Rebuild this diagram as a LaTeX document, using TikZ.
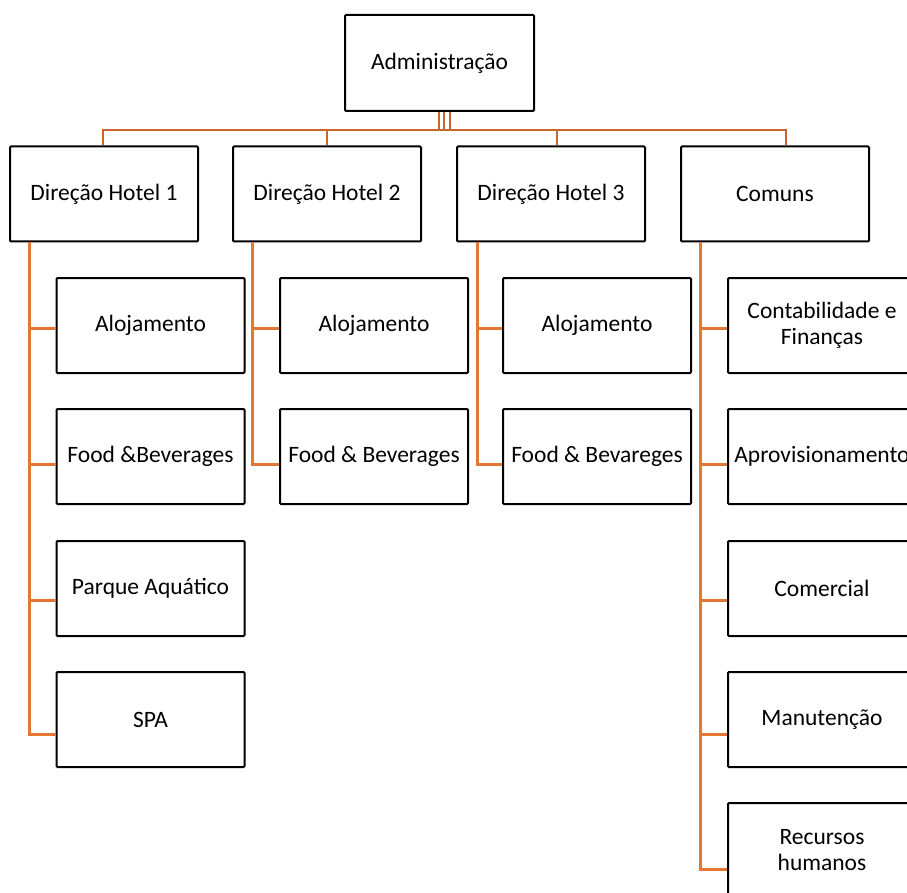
\documentclass[tikz,border=0pt]{standalone}
\usepackage{fontspec}
\setmainfont{Carlito}
\definecolor{busorange}{RGB}{200,102,45}
\definecolor{linkorange}{RGB}{228,120,50}
\begin{document}
\begin{tikzpicture}[x=1pt,y=-1pt,
  unit/.style={draw=black,line width=2pt,fill=white,rounded corners=1pt,
    minimum width=188pt,minimum height=95pt,inner sep=0pt,align=center,
    font=\fontsize{23.5}{26}\selectfont},
  bus/.style={draw=busorange,line width=2.5pt},
  link/.style={draw=linkorange,line width=3pt}]
\useasboundingbox (0,0) rectangle (907,893);
\clip (0,0) rectangle (907,893);

% top level
\node[unit,minimum width=189pt,minimum height=96pt] (adm) at (439.5,63) {Administração};

% second level
\node[unit] (h1) at (104,194) {Direção Hotel 1};
\node[unit] (h2) at (327,194) {Direção Hotel 2};
\node[unit] (h3) at (551,194) {Direção Hotel 3};
\node[unit] (com) at (775,194) {Comuns};

% departments of hotel 1
\node[unit] (a1) at (150.5,325.5) {Alojamento};
\node[unit] (f1) at (150.5,456.5) {Food \&Beverages};
\node[unit] (p1) at (150.5,588.5) {Parque Aquático};
\node[unit] (s1) at (150.5,719.5) {SPA};

% departments of hotel 2
\node[unit] (a2) at (374,325.5) {Alojamento};
\node[unit] (f2) at (374,456.5) {Food \& Beverages};

% departments of hotel 3
\node[unit] (a3) at (597,325.5) {Alojamento};
\node[unit] (f3) at (597,456.5) {Food \& Bevareges};

% shared services
\node[unit] (c1) at (822,325.5) {Contabilidade e\\Finanças};
\node[unit] (c2) at (822,456.5) {Aprovisionamento};
\node[unit] (c3) at (822,588.5) {Comercial};
\node[unit] (c4) at (822,719.5) {Manutenção};
\node[unit] (c5) at (822,850.5) {Recursos\\humanos};

% bus below the top box
\coordinate (bus) at (444,130);
\foreach \dx in {-0.5,4.5,10.5}
  \draw[bus] ([xshift=\dx pt]adm.south) -- ([xshift=\dx pt]adm.south |- bus);
\draw[bus] ([xshift=-1pt]h1.north) |- (bus);
\draw[bus] (h2.north) |- (bus);
\draw[bus] ([xshift=6pt]h3.north) |- (bus);
\draw[bus] ([xshift=11pt]com.north) |- (bus);

% branches to the departments
\draw[link] ([xshift=20pt]h1.south west) |- ([yshift=-3pt]a1.west);
\draw[link] ([xshift=20pt]h1.south west) |- ([yshift=-8pt]f1.west);
\draw[link] ([xshift=20pt]h1.south west) |- ([yshift=-12pt]p1.west);
\draw[link] ([xshift=20pt]h1.south west) |- ([yshift=-15pt]s1.west);

\draw[link] ([xshift=20pt]h2.south west) |- ([yshift=-3pt]a2.west);
\draw[link] ([xshift=20pt]h2.south west) |- ([yshift=-8pt]f2.west);

\draw[link] ([xshift=21pt]h3.south west) |- ([yshift=-3pt]a3.west);
\draw[link] ([xshift=21pt]h3.south west) |- ([yshift=-8pt]f3.west);

\draw[link] ([xshift=20pt]com.south west) |- ([yshift=-3pt]c1.west);
\draw[link] ([xshift=20pt]com.south west) |- ([yshift=-8pt]c2.west);
\draw[link] ([xshift=20pt]com.south west) |- ([yshift=-12pt]c3.west);
\draw[link] ([xshift=20pt]com.south west) |- ([yshift=-15pt]c4.west);
\draw[link] ([xshift=20pt]com.south west) |- ([yshift=-19pt]c5.west);
\end{tikzpicture}
\end{document}
